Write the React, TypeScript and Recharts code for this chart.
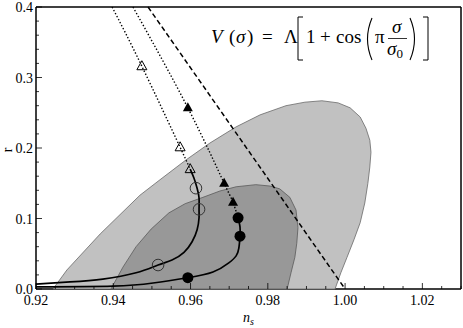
import { ScatterChart, Scatter, XAxis, YAxis, ReferenceLine } from "recharts";

// confidence contours, n_s and r
const outerNs = [0.9244, 0.928, 0.9366, 0.9469, 0.9521, 0.9588, 0.965, 0.9718, 0.978, 0.9847, 0.9896, 0.994, 0.9982, 1.0013, 1.0039, 1.0054, 1.0064, 1.0067, 1.0064, 1.0059, 1.0051, 1.0039, 1.0023, 1.0005, 0.9989, 0.9974];
const outerR = [0, 0.027, 0.078, 0.133, 0.155, 0.183, 0.207, 0.23, 0.247, 0.26, 0.265, 0.267, 0.264, 0.257, 0.244, 0.228, 0.211, 0.194, 0.173, 0.15, 0.122, 0.094, 0.07, 0.045, 0.023, 0];
const innerNs = [0.9394, 0.9425, 0.9459, 0.9498, 0.9544, 0.9586, 0.9632, 0.9676, 0.9718, 0.9769, 0.9806, 0.9831, 0.9857, 0.9873, 0.9878, 0.9875, 0.987, 0.986, 0.985];
const innerR = [0, 0.031, 0.06, 0.085, 0.108, 0.121, 0.13, 0.139, 0.145, 0.148, 0.146, 0.142, 0.13, 0.112, 0.087, 0.065, 0.045, 0.023, 0];

// model tracks
const openDottedNs = [0.9397, 0.9474, 0.9573, 0.9599];
const openDottedR = [0.4, 0.316, 0.201, 0.17];
const openSolidNs = [0.9599, 0.9609, 0.9617, 0.9622, 0.9622, 0.9622, 0.9617, 0.9604, 0.9583, 0.9552, 0.9516, 0.9459, 0.9373, 0.9288, 0.92];
const openSolidR = [0.17, 0.157, 0.143, 0.129, 0.113, 0.101, 0.084, 0.067, 0.052, 0.041, 0.034, 0.023, 0.014, 0.01, 0.007];
const filledDottedNs = [0.9451, 0.9593, 0.9687, 0.971, 0.9723];
const filledDottedR = [0.4, 0.257, 0.15, 0.123, 0.101];
const filledSolidNs = [0.9723, 0.9728, 0.9728, 0.9725, 0.9718, 0.9699, 0.9658, 0.9593, 0.9503, 0.9399, 0.92];
const filledSolidR = [0.101, 0.088, 0.075, 0.058, 0.047, 0.037, 0.024, 0.016, 0.0085, 0.004, 0.003];
const dashedNs = [0.949, 1.0];
const dashedR = [0.4, 0];

// markers
const openTriNs = [0.9474, 0.9573, 0.9599];
const openTriR = [0.316, 0.201, 0.17];
const filledTriNs = [0.9593, 0.9687, 0.971];
const filledTriR = [0.257, 0.15, 0.123];
const openCircNs = [0.9614, 0.9622, 0.9516];
const openCircR = [0.143, 0.113, 0.034];
const filledCircNs = [0.9723, 0.9728, 0.9593];
const filledCircR = [0.101, 0.075, 0.016];

const xTicks = [0.92, 0.925, 0.93, 0.935, 0.94, 0.945, 0.95, 0.955, 0.96, 0.965, 0.97, 0.975, 0.98, 0.985, 0.99, 0.995, 1.0, 1.005, 1.01, 1.015, 1.02, 1.025, 1.03];
const xMajor = [0.92, 0.94, 0.96, 0.98, 1.0, 1.02];
const yTicks = [0, 0.02, 0.04, 0.06, 0.08, 0.1, 0.12, 0.14, 0.16, 0.18, 0.2, 0.22, 0.24, 0.26, 0.28, 0.3, 0.32, 0.34, 0.36, 0.38, 0.4];
const yMajor = [0, 0.1, 0.2, 0.3, 0.4];

const serif = { fontFamily: "Liberation Serif, DejaVu Serif, serif" };

const zip = (xs: number[], ys: number[]) => xs.map((x, i) => ({ x, y: ys[i] }));
const isIn = (v: number, list: number[]) => list.some((m) => Math.abs(m - v) < 1e-6);

const noShape = () => <g />;

const XTick = ({ x, y, payload }: any) => {
  const major = isIn(payload.value, xMajor);
  return (
    <g>
      <line x1={x} y1={y} x2={x} y2={y - (major ? 6 : 3)} stroke="#000" strokeWidth={0.8} />
      {major && (
        <text x={x} y={y + 16} textAnchor="middle" style={serif} fontSize={14} fill="#000">
          {payload.value.toFixed(2)}
        </text>
      )}
    </g>
  );
};

const YTick = ({ x, y, payload }: any) => {
  const major = isIn(payload.value, yMajor);
  return (
    <g>
      <line x1={x} y1={y} x2={x + (major ? 6 : 3)} y2={y} stroke="#000" strokeWidth={0.8} />
      {major && (
        <text x={x - 3} y={y + 5} textAnchor="end" style={serif} fontSize={14} fill="#000">
          {payload.value.toFixed(1)}
        </text>
      )}
    </g>
  );
};

const OpenTri = ({ cx, cy }: any) => (
  <polygon points={`${cx},${cy - 5.5} ${cx - 5},${cy + 3.5} ${cx + 5},${cy + 3.5}`} fill="none" stroke="#000" strokeWidth={1} />
);
const FilledTri = ({ cx, cy }: any) => (
  <polygon points={`${cx},${cy - 5.5} ${cx - 5},${cy + 3.5} ${cx + 5},${cy + 3.5}`} fill="#000" />
);
const OpenCirc = ({ cx, cy }: any) => <circle cx={cx} cy={cy} r={5.8} fill="none" stroke="#333" strokeWidth={1} />;
const FilledCirc = ({ cx, cy }: any) => <circle cx={cx} cy={cy} r={5.5} fill="#000" />;

const solid = { stroke: "#000", strokeWidth: 1.7, fill: "none" };
const dotted = { stroke: "#000", strokeWidth: 1.4, strokeDasharray: "1.4 2", fill: "none" };

export default function App() {
  return (
    <div style={{ position: "absolute", left: 0, top: 0, width: 463, height: 328, background: "#fff" }}>
      <ScatterChart width={463} height={328} margin={{ top: 7, right: 2, bottom: 0, left: 0 }}>
        <XAxis
          type="number"
          dataKey="x"
          domain={[0.92, 1.03]}
          ticks={xTicks}
          interval={0}
          tickSize={0}
          tickMargin={0}
          tick={<XTick />}
          height={39}
          axisLine={{ stroke: "#000", strokeWidth: 1.5 }}
        />
        <YAxis
          type="number"
          dataKey="y"
          domain={[0, 0.4]}
          ticks={yTicks}
          interval={0}
          tickSize={0}
          tickMargin={0}
          tick={<YTick />}
          width={36}
          axisLine={{ stroke: "#000", strokeWidth: 1.5 }}
        />
        <Scatter data={zip(outerNs, outerR)} shape={noShape} line={{ fill: "#c1c1c1", stroke: "#6a6a6a", strokeWidth: 0.8 }} lineJointType="linearClosed" isAnimationActive={false} />
        <Scatter data={zip(innerNs, innerR)} shape={noShape} line={{ fill: "#989898", stroke: "#5a5a5a", strokeWidth: 0.8 }} lineJointType="linearClosed" isAnimationActive={false} />
        <Scatter data={zip(dashedNs, dashedR)} shape={noShape} line={{ stroke: "#000", strokeWidth: 1.5, strokeDasharray: "5 3", fill: "none" }} isAnimationActive={false} />
        <Scatter data={zip(openDottedNs, openDottedR)} shape={noShape} line={dotted} lineJointType="natural" isAnimationActive={false} />
        <Scatter data={zip(filledDottedNs, filledDottedR)} shape={noShape} line={dotted} lineJointType="natural" isAnimationActive={false} />
        <Scatter data={zip(openSolidNs, openSolidR)} shape={noShape} line={solid} lineJointType="natural" isAnimationActive={false} />
        <Scatter data={zip(filledSolidNs, filledSolidR)} shape={noShape} line={solid} lineJointType="natural" isAnimationActive={false} />
        <Scatter data={zip(openTriNs, openTriR)} shape={OpenTri} isAnimationActive={false} />
        <Scatter data={zip(filledTriNs, filledTriR)} shape={FilledTri} isAnimationActive={false} />
        <Scatter data={zip(openCircNs, openCircR)} shape={OpenCirc} isAnimationActive={false} />
        <Scatter data={zip(filledCircNs, filledCircR)} shape={FilledCirc} isAnimationActive={false} />
        <ReferenceLine y={0.4} stroke="#000" strokeWidth={1.5} />
        <ReferenceLine x={1.03} stroke="#000" strokeWidth={1.5} />
      </ScatterChart>
      <svg width={463} height={328} style={{ position: "absolute", left: 0, top: 0, pointerEvents: "none", ...serif }}>
        <text x={243} y={322} fontSize={14} fontStyle="italic" style={serif}>n<tspan fontSize={10} dy={3}>s</tspan></text>
        <text x={0} y={0} fontSize={14} style={serif} transform="translate(12 150) rotate(-90)" textAnchor="middle">r</text>
        <g fontSize={19} fill="#000" style={serif}>
          <text x={211} y={43} fontStyle="italic">V</text>
          <text x={229} y={43}>(</text>
          <text x={236} y={43} fontStyle="italic">σ</text>
          <text x={247} y={43}>)</text>
          <text x={262} y={43}>=</text>
          <text x={284} y={43}>Λ</text>
          <path d="M303,17 H298 V60 H303" fill="none" stroke="#000" strokeWidth={1} />
          <text x={306} y={43}>1</text>
          <text x={320} y={43}>+</text>
          <text x={336} y={43}>cos</text>
          <path d="M372,18 Q363,39 372,60" fill="none" stroke="#000" strokeWidth={1.1} />
          <text x={375} y={43}>π</text>
          <text x={392} y={33} fontStyle="italic">σ</text>
          <line x1={388} y1={38.5} x2={407} y2={38.5} stroke="#000" strokeWidth={0.8} />
          <text x={387} y={55} fontStyle="italic">σ<tspan fontSize={13} fontStyle="normal" dy={3}>0</tspan></text>
          <path d="M410,18 Q419,39 410,60" fill="none" stroke="#000" strokeWidth={1.1} />
          <path d="M423,17 H428 V60 H423" fill="none" stroke="#000" strokeWidth={1} />
        </g>
      </svg>
    </div>
  );
}
